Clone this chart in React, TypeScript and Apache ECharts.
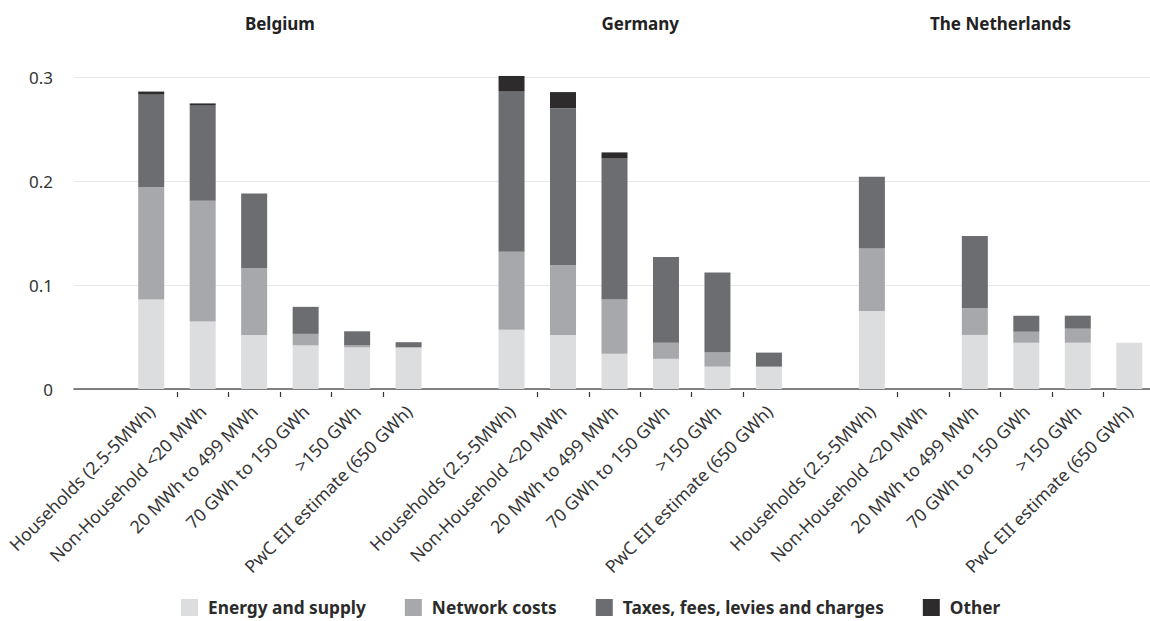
import React, { useEffect, useRef } from "react";
import * as echarts from "echarts";

const countries = ["Belgium", "Germany", "The Netherlands"];
const consumerBands = [
  "Households (2.5-5MWh)",
  "Non-Household <20 MWh",
  "20 MWh to 499 MWh",
  "70 GWh to 150 GWh",
  ">150 GWh",
  "PwC EII estimate (650 GWh)",
];
const seriesNames = [
  "Energy and supply",
  "Network costs",
  "Taxes, fees, levies and charges",
  "Other",
];
const seriesColors = ["#dcdddf", "#a7a8ab", "#6c6d70", "#2e2b2c"];

// Belgium
const energyBE = [0.086, 0.065, 0.052, 0.042, 0.040, 0.040];
const networkBE = [0.108, 0.116, 0.064, 0.011, 0.002, 0];
const taxesBE = [0.089, 0.092, 0.072, 0.026, 0.0135, 0.005];
const otherBE = [0.003, 0.0016, 0, 0, 0, 0];
// Germany
const energyDE = [0.057, 0.052, 0.034, 0.029, 0.0215, 0.0215];
const networkDE = [0.075, 0.067, 0.052, 0.0155, 0.0135, 0];
const taxesDE = [0.154, 0.151, 0.1355, 0.0825, 0.077, 0.0135];
const otherDE = [0.015, 0.0155, 0.006, 0, 0, 0];
// The Netherlands
const energyNL = [0.075, null, 0.052, 0.0445, 0.0445, 0.0445];
const networkNL = [0.060, null, 0.026, 0.0105, 0.0135, 0];
const taxesNL = [0.069, null, 0.069, 0.0155, 0.0125, 0];
const otherNL = [0, null, 0, 0, 0, 0];

const yMin = 0;
const yMax = 0.3;
const yStep = 0.1;

const FONT = '"Noto Sans", "DejaVu Sans", sans-serif';

export default function App() {
  const ref = useRef<HTMLDivElement>(null);

  useEffect(() => {
    if (!ref.current) return;
    const chart = echarts.init(ref.current, null, { renderer: "svg" });

    const groups = [
      [energyBE, networkBE, taxesBE, otherBE],
      [energyDE, networkDE, taxesDE, otherDE],
      [energyNL, networkNL, taxesNL, otherNL],
    ];

    const categories: string[] = [];
    const groupIdx: number[][] = [];
    const seriesData: any[][] = seriesNames.map(() => []);
    groups.forEach((g) => {
      categories.push("");
      seriesData.forEach((arr) => arr.push("-"));
      const idxs: number[] = [];
      consumerBands.forEach((b, bi) => {
        idxs.push(categories.length);
        categories.push(b);
        g.forEach((vals, si) => {
          const v = vals[bi];
          seriesData[si].push(v === null ? "-" : v);
        });
      });
      groupIdx.push(idxs);
    });

    const showTick = (i: number) =>
      i > 0 && categories[i] !== "" && categories[i - 1] !== "";

    chart.setOption({
      animation: false,
      backgroundColor: "#ffffff",
      textStyle: { fontFamily: FONT },
      grid: { left: 74, right: 5, top: 77, bottom: 232, containLabel: false },
      legend: {
        data: seriesNames,
        left: 181,
        top: 599,
        padding: 0,
        itemWidth: 17,
        itemHeight: 17,
        itemGap: 39,
        icon: "rect",
        selectedMode: false,
        textStyle: {
          fontFamily: FONT,
          fontWeight: "bold",
          fontSize: 17.3,
          color: "#2b2b2b",
          padding: [0, 0, 0, 5],
        },
      },
      xAxis: [
        {
          type: "category",
          data: categories,
          boundaryGap: true,
          axisLine: { show: true, lineStyle: { color: "#5a5a5a", width: 1.6 } },
          axisTick: { show: false },
          axisLabel: {
            interval: 0,
            rotate: 45,
            margin: 19,
            fontSize: 17.6,
            fontFamily: FONT,
            color: "#363636",
          },
          splitLine: { show: false },
        },
        {
          type: "category",
          data: categories,
          position: "bottom",
          offset: 3,
          boundaryGap: true,
          axisLine: { show: false },
          axisTick: {
            show: true,
            interval: (i: number) => showTick(i),
            length: 5,
            lineStyle: { color: "#333", width: 1.2 },
          },
          axisLabel: { show: false },
          splitLine: { show: false },
        },
      ],
      yAxis: {
        type: "value",
        min: yMin,
        max: yMax,
        interval: yStep,
        axisLine: { show: false },
        axisTick: { show: false },
        axisLabel: {
          margin: 21,
          fontSize: 17,
          fontFamily: FONT,
          color: "#333",
          formatter: (v: number) => String(+v.toFixed(1)),
        },
        splitLine: { show: true, lineStyle: { color: "#e6e6e6", width: 1 } },
      },
      series: seriesNames.map((name, si) => ({
        name,
        type: "bar",
        stack: "total",
        barWidth: 26,
        clip: false,
        xAxisIndex: 0,
        itemStyle: { color: seriesColors[si] },
        data: seriesData[si],
      })),
    });

    const gx = groupIdx.map((idxs) => {
      const a = chart.convertToPixel({ xAxisIndex: 0 }, idxs[0]) as number;
      const b = chart.convertToPixel({ xAxisIndex: 0 }, idxs[idxs.length - 1]) as number;
      return (a + b) / 2;
    });

    chart.setOption({
      graphic: countries.map((c, i) => ({
        type: "text",
        x: gx[i],
        y: 23,
        style: {
          text: c,
          align: "center",
          verticalAlign: "middle",
          fontFamily: FONT,
          fontWeight: "bold",
          fontSize: 17,
          fill: "#222",
        },
      })),
    });

    return () => chart.dispose();
  }, []);

  return (
    <div
      style={{
        position: "fixed",
        left: 0,
        top: 0,
        width: 1150,
        height: 621,
        overflow: "hidden",
        background: "#fff",
      }}
    >
      <div ref={ref} style={{ width: 1160, height: 621 }} />
    </div>
  );
}
